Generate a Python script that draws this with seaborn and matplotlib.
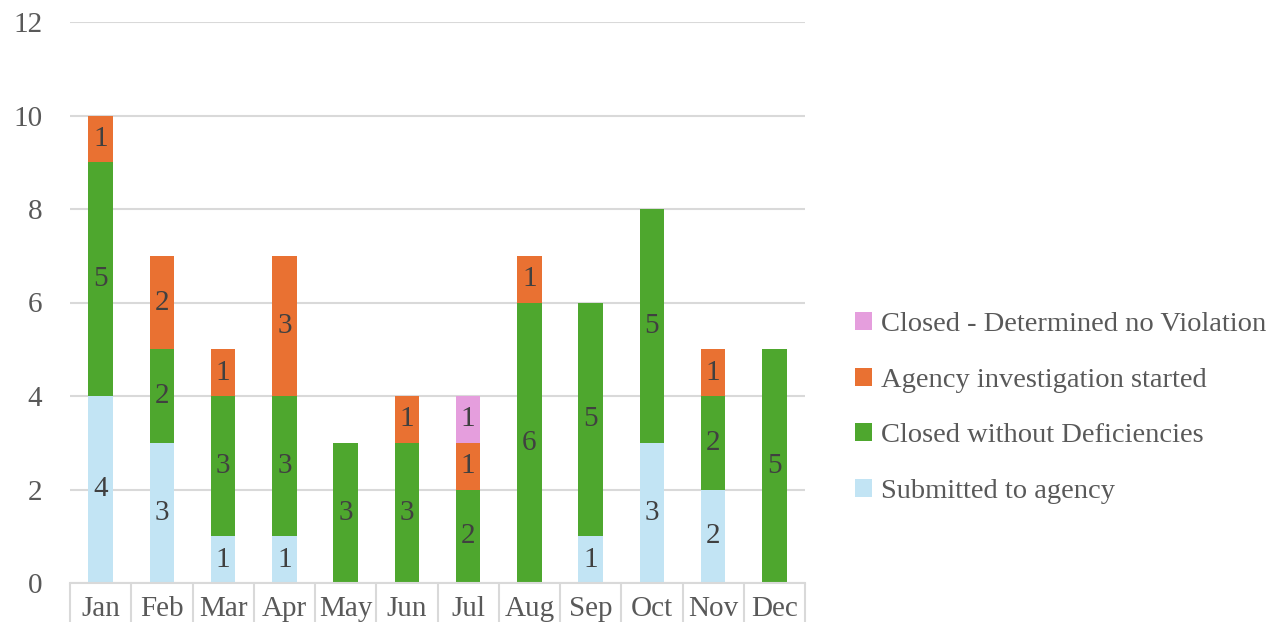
import numpy as np
import pandas as pd
import matplotlib.pyplot as plt
import seaborn as sns

months = ["Jan", "Feb", "Mar", "Apr", "May", "Jun", "Jul", "Aug", "Sep", "Oct", "Nov", "Dec"]
submitted = [4, 3, 1, 1, 0, 0, 0, 0, 1, 3, 2, 0]
closed_without = [5, 2, 3, 3, 3, 3, 2, 6, 5, 5, 2, 5]
agency_started = [1, 2, 1, 3, 0, 1, 1, 1, 0, 0, 1, 0]
closed_no_violation = [0, 0, 0, 0, 0, 0, 1, 0, 0, 0, 0, 0]

series = [
    ("Submitted to agency", submitted, "#c2e4f4"),
    ("Closed without Deficiencies", closed_without, "#4ea72e"),
    ("Agency investigation started", agency_started, "#e97132"),
    ("Closed - Determined no Violation", closed_no_violation, "#e59edd"),
]

sns.set_style("white")
plt.rcParams["font.family"] = ["Liberation Serif", "DejaVu Serif"]

fig = plt.figure(figsize=(12.8, 6.22), dpi=100)
ax = fig.add_axes([70 / 1280, 39 / 622, 735 / 1280, 561 / 622])

bottom = np.zeros(len(months))
for name, vals, color in series:
    df = pd.DataFrame({"month": months, "value": vals})
    sns.barplot(data=df, x="month", y="value", color=color, bottom=bottom,
                width=0.4, ax=ax, label=name, saturation=1, linewidth=0)
    for i, v in enumerate(vals):
        if v > 0:
            ax.text(i, bottom[i] + v / 2, str(v), ha="center", va="center",
                    fontsize=21, color="#404040")
    bottom = bottom + np.array(vals)

ax.set_ylim(0, 12)
ax.set_xlim(-0.5, 11.5)
ax.set_yticks(range(0, 13, 2))
ax.yaxis.grid(True, color="#d9d9d9", linewidth=1.5)
ax.set_axisbelow(True)
ax.set_xlabel("")
ax.set_ylabel("")
for s in ["top", "right", "left"]:
    ax.spines[s].set_visible(False)
ax.spines["bottom"].set_color("#d9d9d9")
ax.spines["bottom"].set_linewidth(1.5)

# category boxes under the axis
ax.set_xticks(np.arange(-0.5, 12, 1))
ax.set_xticklabels([])
ax.set_xticks(range(12), minor=True)
ax.set_xticklabels(months, minor=True)
ax.tick_params(axis="x", which="major", bottom=True, length=29, width=1.5,
               color="#d9d9d9", direction="out")
ax.tick_params(axis="x", which="minor", bottom=True, length=0, labelsize=21,
               labelcolor="#595959", pad=9)
ax.tick_params(axis="y", length=0, labelsize=21, labelcolor="#595959", pad=20)

handles, labels = ax.get_legend_handles_labels()
if ax.get_legend() is not None:
    ax.get_legend().remove()
fig.legend(handles[::-1], labels[::-1], loc="center left",
           bbox_to_anchor=(855 / 1280, 1 - 408 / 622), frameon=False,
           fontsize=20.5, labelcolor="#595959", handlelength=0.6, handleheight=0.6,
           handletextpad=0.3, labelspacing=1.08, borderpad=0, borderaxespad=0)

fig.savefig("out.png", dpi=100)
